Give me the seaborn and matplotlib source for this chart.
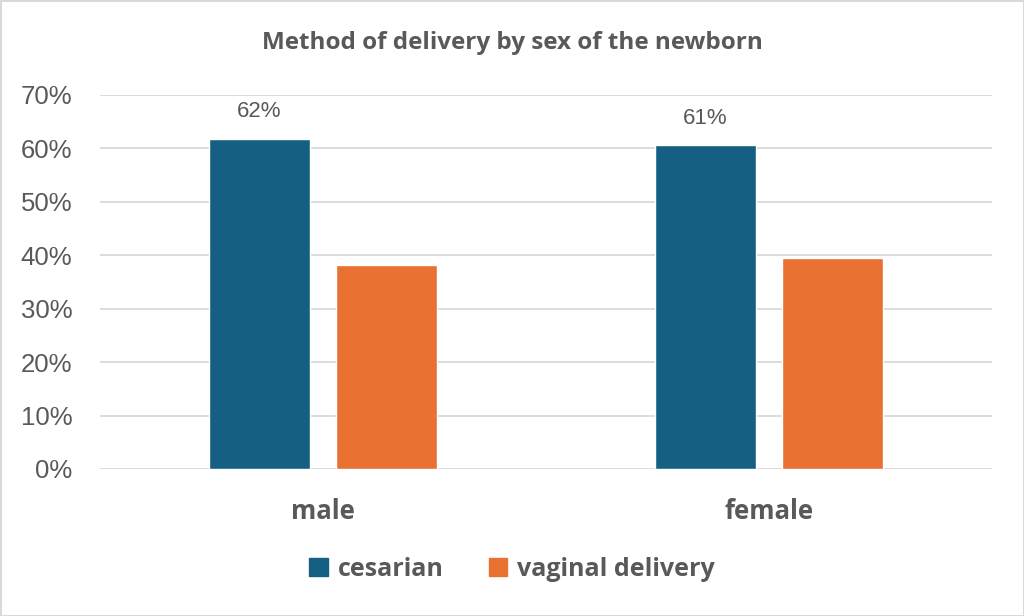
import matplotlib.pyplot as plt
import seaborn as sns
import pandas as pd
from matplotlib.patches import Rectangle
from matplotlib.ticker import PercentFormatter

# datos
sexes = ["male", "female"]
methods = ["cesarian", "vaginal delivery"]
cesarian = [0.618, 0.606]
vaginal = [0.382, 0.394]
colors = ["#156082", "#E97132"]

df = pd.DataFrame({
    "sex": sexes * 2,
    "method": [methods[0]] * 2 + [methods[1]] * 2,
    "share": cesarian + vaginal,
})

sns.set_style("white")
plt.rcParams["font.family"] = ["Liberation Sans", "DejaVu Sans"]
text_col = "#595959"
bold_font = ["Open Sans", "DejaVu Sans"]

fig = plt.figure(figsize=(10.24, 6.16), dpi=100)
fig.patch.set_edgecolor("#D9D9D9")
fig.patch.set_linewidth(2)
ax = fig.add_axes([100 / 1024, (616 - 469) / 616, 892 / 1024, (469 - 95) / 616])

sns.barplot(data=df, x="sex", y="share", hue="method", order=sexes, hue_order=methods,
            palette=colors, width=0.57, gap=0.21, saturation=1, ax=ax, legend=False)

ax.set_ylim(0, 0.7)
ax.set_yticks([i / 10 for i in range(8)])
ax.yaxis.set_major_formatter(PercentFormatter(1.0, decimals=0))
ax.grid(axis="y", color="#D9D9D9", linewidth=1.3)
ax.set_axisbelow(True)
for s in ax.spines.values():
    s.set_visible(False)
ax.tick_params(axis="y", length=0, pad=20, labelsize=18.5, labelcolor=text_col)
ax.tick_params(axis="x", length=0, pad=21, labelsize=18.5, labelcolor=text_col)
for lbl in ax.get_xticklabels():
    lbl.set_fontfamily(bold_font)
    lbl.set_fontweight("bold")
ax.set_xlabel("")
ax.set_ylabel("")

# etiquetas solo para cesarea
ax.bar_label(ax.containers[0], labels=[f"{v:.0%}" for v in cesarian],
             padding=12, fontsize=16, color=text_col)

fig.text(0.5, (616 - 43) / 616, "Method of delivery by sex of the newborn",
         ha="center", va="center", fontsize=17.5, fontweight="bold", color=text_col,
         family=bold_font)

handles = [Rectangle((0, 0), 1, 1, color=c) for c in colors]
leg = fig.legend(handles, methods, loc="center", bbox_to_anchor=(0.5, (616 - 569) / 616),
                 ncol=2, frameon=False, handlelength=0.75, handleheight=0.75,
                 handletextpad=0.4, columnspacing=1.8,
                 prop={"family": bold_font, "weight": "bold", "size": 18})
for t in leg.get_texts():
    t.set_color(text_col)

fig.savefig("out.png", dpi=100)
